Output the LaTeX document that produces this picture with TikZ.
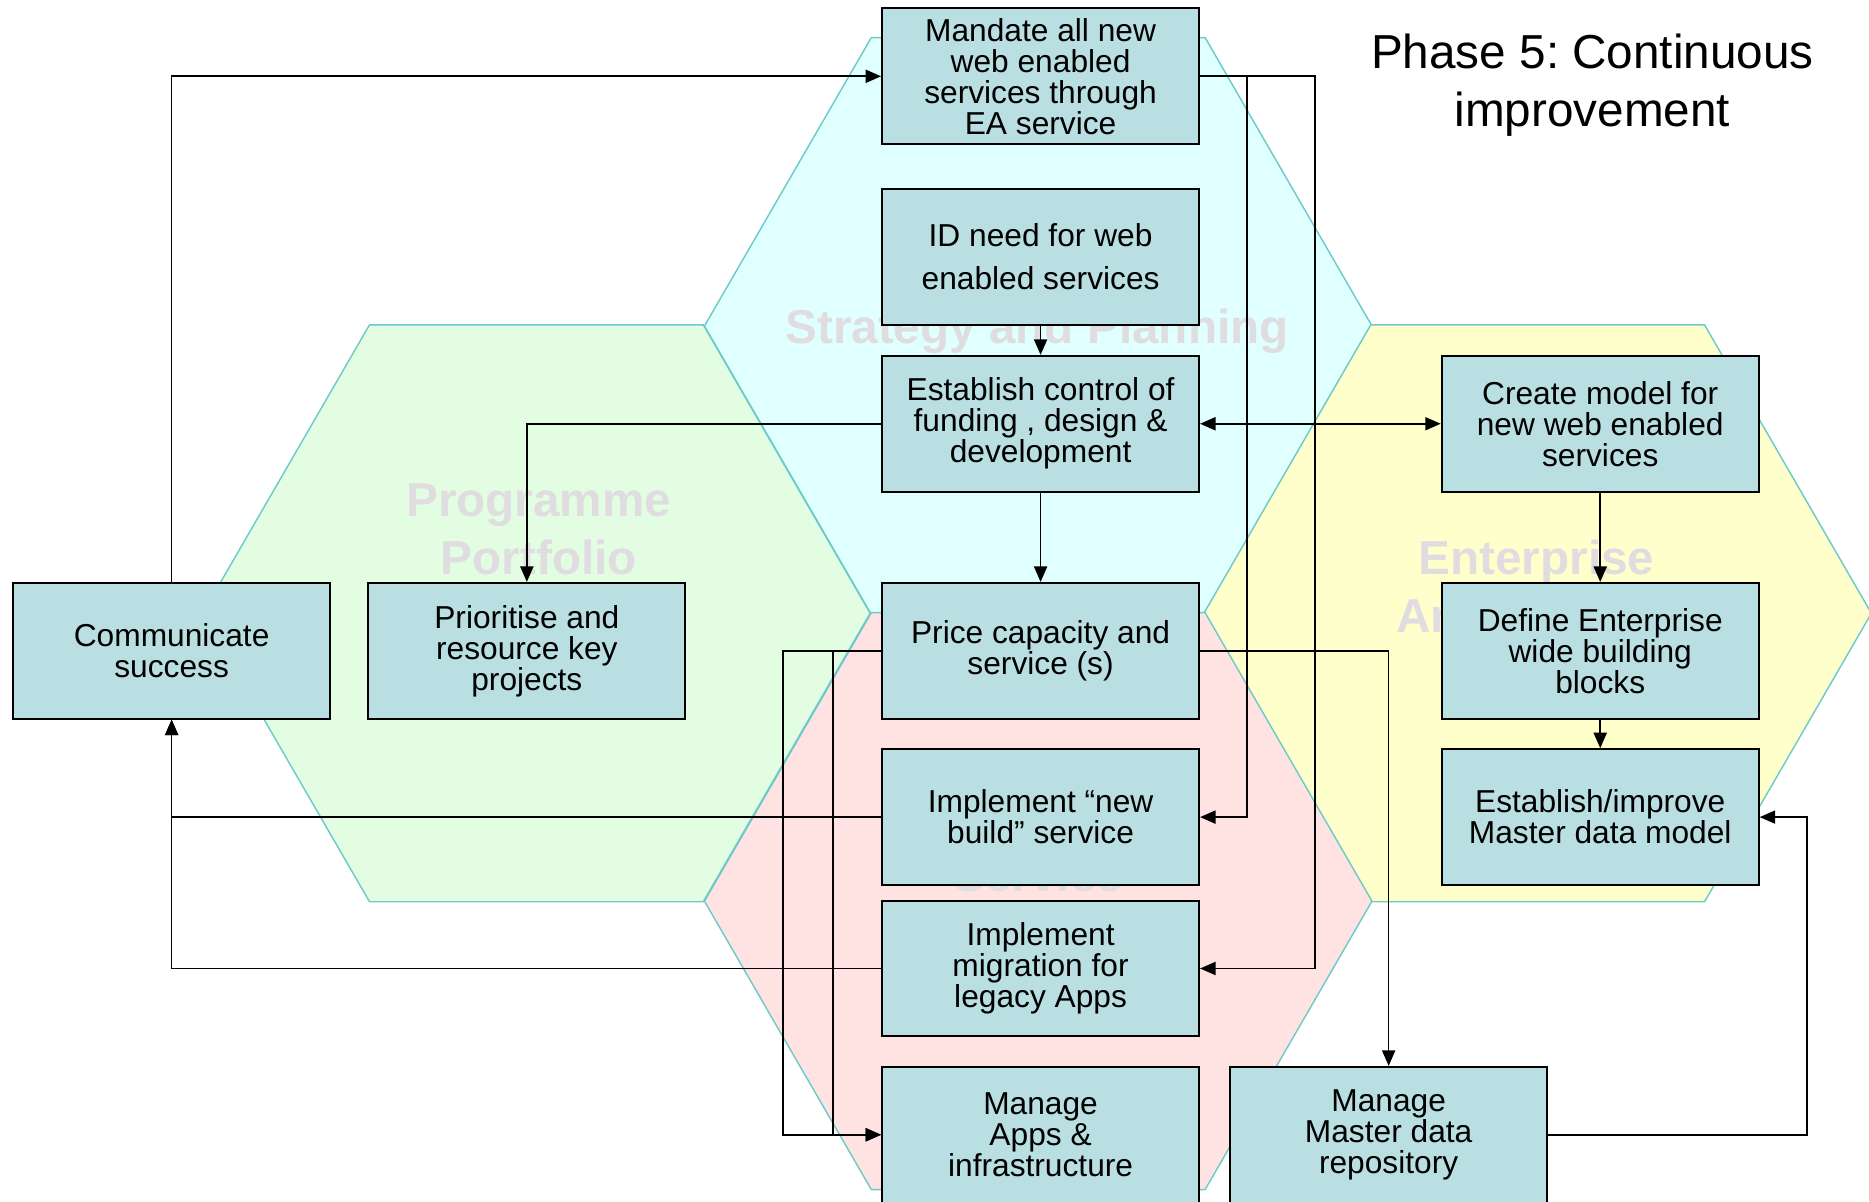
\documentclass[tikz,border=0pt]{standalone}
\usepackage{fontspec}
\setmainfont{Liberation Sans}
\usetikzlibrary{arrows.meta,calc}
\frenchspacing

\definecolor{boxfill}{RGB}{185,223,226}
\definecolor{hexedge}{RGB}{108,202,202}
\definecolor{hexblue}{RGB}{224,255,255}
\definecolor{hexgreen}{RGB}{227,253,227}
\definecolor{hexyellow}{RGB}{255,255,204}
\definecolor{hexred}{RGB}{255,227,227}
\definecolor{hexlabel}{RGB}{224,221,225}

\tikzset{
  box/.style={draw=black, line width=0.8pt, fill=boxfill, minimum width=133pt,
    minimum height=57pt, inner sep=0pt, align=center,
    font=\fontsize{13.3}{13}\selectfont},
  arr/.style={draw=black, line width=0.7pt, -{Triangle[length=6.5pt,width=5.5pt]}},
  arrboth/.style={draw=black, line width=0.7pt,
    {Triangle[length=6.5pt,width=5.5pt]}-{Triangle[length=6.5pt,width=5.5pt]}},
  hexagon/.style={draw=hexedge, line width=0.6pt},
  hexname/.style={text=hexlabel, align=center, inner sep=0pt,
    font=\bfseries\fontsize{20}{24}\selectfont},
}

% flat-topped hexagon of circumradius 280 around a centre
\newcommand{\hexat}[3]{%
  \path[hexagon, fill=#3] ($(#1,#2)+(-280,0)$) -- ($(#1,#2)+(-140,-242)$)
    -- ($(#1,#2)+(140,-242)$) -- ($(#1,#2)+(280,0)$) -- ($(#1,#2)+(140,242)$)
    -- ($(#1,#2)+(-140,242)$) -- cycle;}

\begin{document}
\begin{tikzpicture}[x=0.5pt, y=-0.5pt]
\useasboundingbox (0,0) rectangle (1568,1008);
\clip (0,0) rectangle (1568,1008);

% four domain hexagons
\hexat{871}{273.5}{hexblue}
\hexat{450}{514.5}{hexgreen}
\hexat{1290}{514.5}{hexyellow}
\hexat{871}{756}{hexred}

% domain names
\node[hexname] (lblstrat) at (870,278) {Strategy and Planning};
\node[hexname] (lblprog) at (452,444) {Programme\\Portfolio};
\node[hexname] (lblent) at (1289,492) {Enterprise\\Architecture};
\node[hexname, anchor=base] (lblserv) at (871,748) {Service};

% title
\node[align=center, inner sep=0pt, font=\fontsize{20}{24.5}\selectfont]
  (title) at (1336,71.5) {Phase 5: Continuous\\improvement};

% routing columns
\coordinate (colA) at (1046,0);
\coordinate (colB) at (1103,0);
\coordinate (colC) at (657,0);
\coordinate (colD) at (699,0);
\coordinate (colE) at (1516,0);

% activity boxes
\node[box] (mandate) at (873,64) {Mandate all new\\web enabled\\services through\\EA service};
\node[box, font=\fontsize{13.3}{18}\selectfont] (idneed) at (873,215.5) {ID need for web\\enabled services};
\node[box] (control) at (873,355.5) {Establish control of\\funding , design \&\\development};
\node[box] (price) at (873,546) {Price capacity and\\service (s)};
\node[box] (newbuild) at (873,685.5) {Implement “new\\build” service};
\node[box] (migration) at (873,812.5) {Implement\\migration for\\legacy Apps};
\node[box] (apps) at (873,952) {Manage\\Apps \&\\infrastructure};
\node[box] (mdrepo) at (1165,952) {Manage\\Master data\\repository};
\node[box] (model) at (1342.5,355.5) {Create model for\\new web enabled\\services};
\node[box] (define) at (1342.5,546) {Define Enterprise\\wide building\\blocks};
\node[box] (mdm) at (1342.5,685.5) {Establish/improve\\Master data model};
\node[box] (comm) at (144,546) {Communicate\\success};
\node[box] (prio) at (442,546) {Prioritise and\\resource key\\projects};

% connectors
\draw[arr] (comm.north) |- (mandate.west);
\draw[arr] (mandate.east) -| (colA |- newbuild.east) -- (newbuild.east);
\draw[arr] (mandate.east) -| (colB |- migration.east) -- (migration.east);
\draw[arr] (idneed) -- (control);
\draw[arr] (control.west) -| (prio.north);
\draw[arrboth] (control.east) -- (model.west);
\draw[arr] (control) -- (price);
\draw[arr] (model) -- (define);
\draw[arr] (define) -- (mdm);
\draw[arr] (price.east) -| (mdrepo.north);
\draw[arr] (price.west) -| (colC |- apps.west) -- (apps.west);
\draw[arr] (price.west) -| (colD |- apps.west) -- (apps.west);
\draw[arr] (newbuild.west) -| (comm.south);
\draw[arr] (migration.west) -| (comm.south);
\draw[arr] (mdrepo.east) -| (colE |- mdm.east) -- (mdm.east);
\end{tikzpicture}
\end{document}
